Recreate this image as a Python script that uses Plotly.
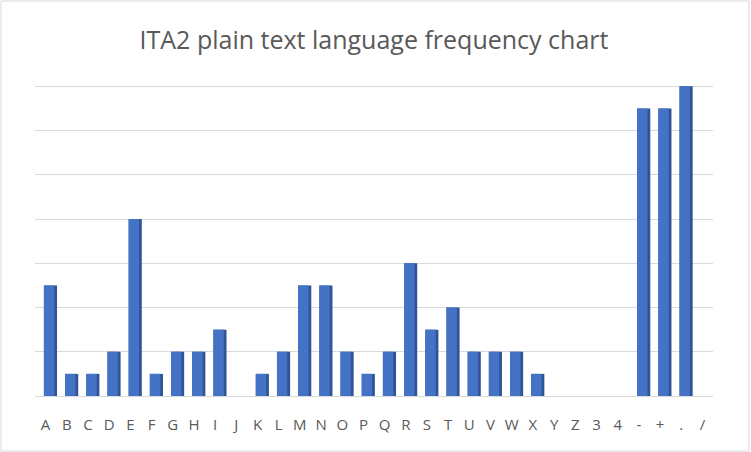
import plotly.graph_objects as go

# ITA2 symbols and their relative frequency
symbols = ['A', 'B', 'C', 'D', 'E', 'F', 'G', 'H', 'I', 'J', 'K', 'L', 'M', 'N', 'O', 'P',
           'Q', 'R', 'S', 'T', 'U', 'V', 'W', 'X', 'Y', 'Z', '3', '4', '-', '+', '.', '/']
frequency = [2.5, 0.5, 0.5, 1, 4, 0.5, 1, 1, 1.5, 0, 0.5, 1, 2.5, 2.5, 1, 0.5,
             1, 3, 1.5, 2, 1, 1, 1, 0.5, 0, 0, 0, 0, 6.5, 6.5, 7, 0]

W, H = 751, 452
ymax = 7.3
ml, mr, mb = 35, 38, 56
mt = int(round(86 - (ymax - 7) * 44.3))
pw, ph = W - ml - mr, H - mt - mb

fig = go.Figure()

# darker side of each bar, sits behind the face
fig.add_trace(go.Bar(
    x=symbols, y=frequency,
    width=0.62, offset=-0.08,
    marker=dict(color='#2F5597', line=dict(width=0)),
    hoverinfo='skip', showlegend=False
))
# front face
fig.add_trace(go.Bar(
    x=symbols, y=frequency,
    width=0.49, offset=-0.08,
    marker=dict(color='#4472C4', line=dict(width=0)),
    hovertemplate='%{x}: %{y}<extra></extra>', showlegend=False
))

fig.add_shape(type='rect', xref='paper', yref='paper',
              x0=-(ml - 1) / pw, x1=1 + (mr - 2) / pw,
              y0=-(mb - 1) / ph, y1=1 + (mt - 1) / ph,
              line=dict(color='#D9D9D9', width=1), layer='below')

fig.update_layout(
    width=W, height=H,
    margin=dict(l=ml, r=mr, t=mt, b=mb),
    barmode='overlay',
    plot_bgcolor='white', paper_bgcolor='white',
    title=dict(text='ITA2 plain text language frequency chart',
               x=0.5, xref='paper', xanchor='center',
               y=1 - 40 / H, yanchor='middle',
               font=dict(family='Open Sans', size=25, color='#595959')),
    font=dict(family='Open Sans', color='#595959'),
    xaxis=dict(showgrid=False, showline=False, ticks='',
               ticklabelstandoff=18,
               tickfont=dict(size=15, color='#595959'),
               range=[-0.5, len(symbols) - 0.5]),
    yaxis=dict(range=[0, ymax], dtick=1, showticklabels=False,
               gridcolor='#D9D9D9', gridwidth=1,
               zeroline=True, zerolinecolor='#D9D9D9', zerolinewidth=1),
)

fig.write_html('out.html', config={'displayModeBar': False},
               post_script="document.body.style.margin='0';")
